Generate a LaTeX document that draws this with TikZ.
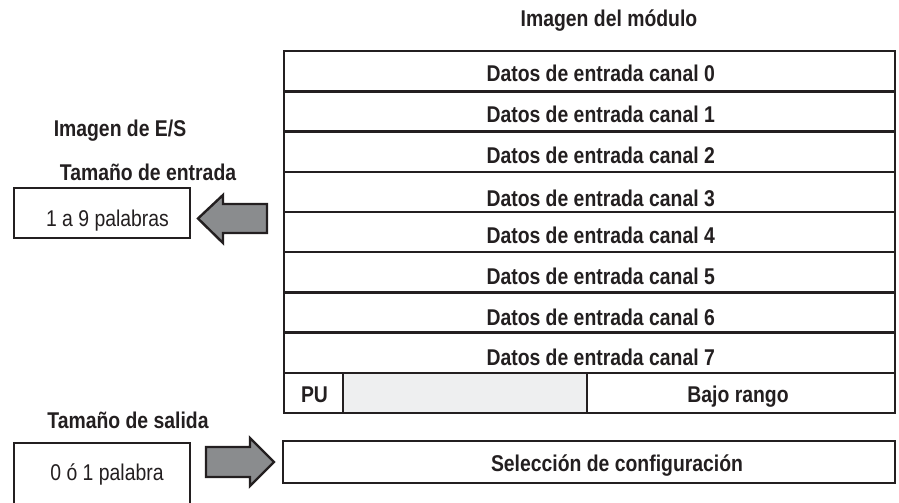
\documentclass[tikz,border=0pt]{standalone}
\usepackage{fontspec}
\setmainfont{Liberation Sans}
\newfontfamily\estrecha{Liberation Sans}[FakeStretch=0.85]
\usepackage{tikz}
\usetikzlibrary{calc}
\definecolor{linea}{HTML}{231F20}
\definecolor{gris}{HTML}{8A8C8E}
\definecolor{grisclaro}{HTML}{EEEFF0}

\begin{document}
\begin{tikzpicture}[x=0.5pt,y=-0.5pt,line width=1.2pt]
  \tikzstyle{celda} = [draw=linea,fill=white,minimum height=20.1pt,inner sep=0pt,anchor=north west]
  \tikzstyle{caja} = [draw=linea,fill=white,inner sep=0pt,anchor=north west]
  \tikzstyle{texto} = [font=\estrecha\fontsize{11.4}{13}\selectfont\bfseries,text=linea,inner sep=0pt,anchor=base]
  \tikzstyle{textonormal} = [font=\estrecha\fontsize{11.4}{13}\selectfont,text=linea,inner sep=0pt,anchor=base]
  \tikzstyle{flecha} = [draw=linea,fill=gris,line join=miter]
  %
  \clip (0,0) rectangle (899,503);
  % Module image.
  \node[texto] (titulo) at (609,26) {Imagen del módulo};
  \foreach \i/\dy in {0/10, 1/11, 2/11.5, 3/14.3, 4/11.1, 5/12.5, 6/12.5, 7/12.3} {
    \node[celda,minimum width=305.5pt] (fila\i) at (283,{50+40.2*\i}) {};
    \node[texto] (canal\i) at ($(fila\i.center)+(11,\dy)$) {Datos de entrada canal \i};
  }
  % Last row.
  \node[celda,minimum width=29.5pt] (pu) at (283,371.6) {};
  \node[celda,minimum width=122pt,fill=grisclaro] (vacio) at (342,371.6) {};
  \node[celda,minimum width=154pt] (bajo) at (586,371.6) {};
  \node[texto] (putxt) at (314.5,402) {PU};
  \node[texto] (bajotxt) at (738,402) {Bajo rango};
  % Output word.
  \node[caja,minimum width=306pt,minimum height=20.75pt] (config) at (282,440) {};
  \node[texto] (configtxt) at (617,471) {Selección de configuración};
  % I/O image.
  \node[texto] (imagenes) at (120,136) {Imagen de E/S};
  \node[texto] (tamentrada) at (148,180) {Tamaño de entrada};
  \node[caja,minimum width=88pt,minimum height=25pt] (entrada) at (13,187) {};
  \node[textonormal] (entradatxt) at (107.5,226) {1 a 9 palabras};
  \node[texto] (tamsalida) at (128,428) {Tamaño de salida};
  \node[caja,minimum width=88pt,minimum height=40pt] (salida) at (13,442) {};
  \node[textonormal] (salidatxt) at (107,480) {0 ó 1 palabra};
  % Block arrows.
  \draw[flecha] (198,218.5) -- (223,195) -- (223,204) -- (267,204) -- (267,233)
    -- (223,233) -- (223,243) -- cycle;
  \draw[flecha] (274,462) -- (250,438) -- (250,447) -- (206,447) -- (206,477)
    -- (250,477) -- (250,486) -- cycle;
\end{tikzpicture}
\end{document}
